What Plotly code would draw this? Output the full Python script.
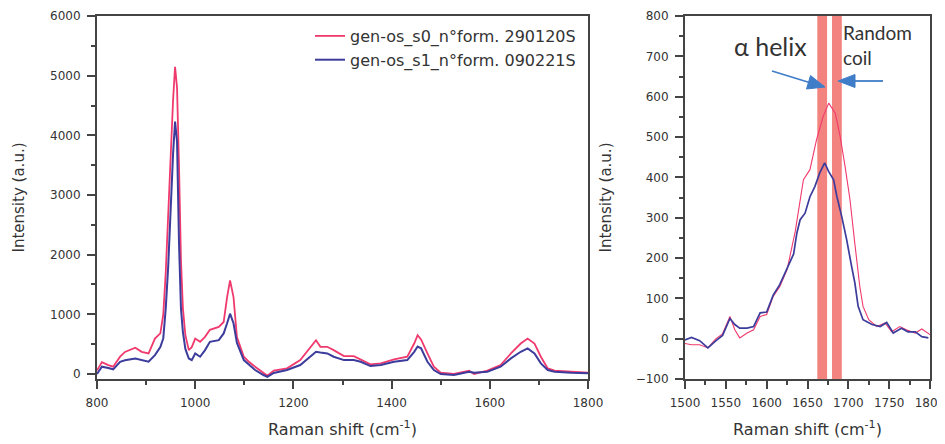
import plotly.graph_objects as go

# ---------------- data ----------------
x_left = [800, 810, 823, 833, 847, 857, 878, 891, 905, 918, 929, 935, 940, 945, 951, 955, 959, 963, 967,
          971, 975, 980, 987, 993, 1000, 1010, 1020, 1030, 1048, 1058, 1065, 1071, 1078, 1085, 1099, 1110,
          1122, 1139, 1147, 1160, 1187, 1214, 1235, 1246, 1255, 1269, 1282, 1303, 1323, 1337, 1357, 1378,
          1405, 1432, 1446, 1453, 1460, 1473, 1486, 1500, 1527, 1558, 1568, 1595, 1622, 1643, 1663, 1677,
          1691, 1704, 1718, 1732, 1766, 1800]
s0_left = [60, 200, 150, 122, 290, 370, 440, 372, 344, 594, 680, 1000, 1700, 2700, 3900, 4600, 5150, 4800,
           3500, 1900, 1100, 650, 400, 450, 594, 539, 622, 740, 789, 872, 1290, 1570, 1290, 620, 290, 200,
           122, 17, -30, 56, 94, 233, 456, 567, 456, 456, 400, 300, 300, 244, 161, 178, 244, 289, 511, 650,
           580, 344, 122, 22, 0, 56, 0, 56, 150, 344, 511, 594, 511, 289, 94, 56, 39, 22]
s1_left = [0, 122, 100, 78, 205, 230, 261, 230, 205, 317, 450, 600, 1100, 1800, 3000, 3700, 4230, 3900,
           2200, 1100, 700, 420, 260, 233, 344, 289, 400, 539, 567, 680, 850, 1011, 850, 520, 233, 150,
           67, -17, -50, 17, 67, 150, 289, 372, 360, 344, 289, 233, 233, 205, 133, 150, 205, 233, 372, 460,
           430, 205, 67, 0, -17, 39, 20, 39, 122, 261, 372, 428, 344, 178, 67, 39, 20, 11]

x_right_s0 = [1500, 1508, 1518, 1528, 1538, 1546, 1555, 1561, 1567, 1576, 1584, 1592, 1600, 1608, 1616,
              1625, 1635, 1645, 1653, 1661, 1669, 1676, 1684, 1690, 1696, 1702, 1708, 1714, 1718, 1725,
              1735, 1745, 1753, 1763, 1771, 1782, 1790, 1800]
s0_right = [-12, -15, -15, -23, 0, 12, 55, 22, 2, 14, 22, 55, 60, 105, 129, 171, 266, 394, 419, 493, 550,
            584, 559, 501, 427, 345, 235, 130, 80, 47, 30, 39, 17, 30, 22, 14, 24, 10]

x_right_s1 = [1500, 1508, 1518, 1528, 1538, 1546, 1555, 1561, 1567, 1576, 1584, 1592, 1600, 1608, 1616,
              1625, 1633, 1637, 1641, 1647, 1653, 1659, 1665, 1671, 1676, 1682, 1686, 1692, 1698, 1704,
              1708, 1712, 1718, 1729, 1739, 1747, 1755, 1765, 1773, 1782, 1790, 1798]
s1_right = [-3, 3, -5, -23, -5, 8, 50, 35, 26, 26, 30, 64, 66, 108, 134, 175, 210, 262, 295, 311, 352, 377,
            411, 436, 414, 394, 352, 302, 245, 179, 138, 80, 47, 35, 30, 40, 14, 26, 17, 17, 5, 2]

series_names = ["gen-os_s0_n°form. 290120S", "gen-os_s1_n°form. 090221S"]
bands = [(1662, 1674), (1680, 1692)]

# ---------------- styling ----------------
PINK = "#F03A6E"
BLUE = "#3C3C9C"
AXC = "#444444"
TXT = "#333333"
ARROW = "#3F7DC8"

# the page body has an 8px margin, so the figure is drawn 8px right/down
OFF = 8
FW, FH = 945 - OFF, 444 - OFF


def px(X):
    return (X - OFF) / FW


def py(Y):
    return 1 - (Y - OFF) / FH


fig = go.Figure()
fig.add_trace(go.Scatter(x=x_left, y=s0_left, mode="lines", name=series_names[0],
                         line=dict(color=PINK, width=1.8), xaxis="x", yaxis="y"))
fig.add_trace(go.Scatter(x=x_left, y=s1_left, mode="lines", name=series_names[1],
                         line=dict(color=BLUE, width=2), xaxis="x", yaxis="y"))
fig.add_trace(go.Scatter(x=x_right_s0, y=s0_right, mode="lines", showlegend=False,
                         line=dict(color=PINK, width=1.1), xaxis="x2", yaxis="y2"))
fig.add_trace(go.Scatter(x=x_right_s1, y=s1_right, mode="lines", showlegend=False,
                         line=dict(color=BLUE, width=1.7), xaxis="x2", yaxis="y2"))

for b0, b1 in bands:
    fig.add_shape(type="rect", xref="x2", yref="y2 domain", x0=b0, x1=b1, y0=0, y1=1,
                  fillcolor="#F2837F", line=dict(width=0), layer="below")

tickfont = dict(family="DejaVu Sans", size=12, color=TXT)
titlefont = dict(family="DejaVu Sans", size=16, color=TXT)


def common(rng, dtick, minor, anchor, domain):
    return dict(domain=domain, range=rng, dtick=dtick, anchor=anchor,
                showline=True, linecolor=AXC, linewidth=2, mirror=True,
                ticks="outside", ticklen=8, tickwidth=1.5, tickcolor=AXC,
                minor=dict(dtick=minor, ticks="outside", ticklen=4, tickcolor=AXC, tickwidth=1.5),
                showgrid=False, zeroline=False, tickfont=tickfont,
                ticklabelstandoff=4, ticklabeloverflow="allow", automargin=False)


def xax(domain, rng, dtick, minor, anchor):
    d = common(rng, dtick, minor, anchor, domain)
    d.update(tick0=rng[0], title=dict(text="Raman shift (cm<sup>-1</sup>)", font=titlefont, standoff=14))
    return d


def yax(domain, rng, dtick, minor, anchor, standoff):
    d = common(rng, dtick, minor, anchor, domain)
    d.update(tick0=0, title=dict(text="Intensity (a.u.)", font=dict(family="DejaVu Sans", size=15, color=TXT),
                                 standoff=standoff))
    return d


ydom = [py(379), py(16)]
fig.update_layout(
    width=FW, height=FH,
    margin=dict(l=0, r=0, t=0, b=0),
    paper_bgcolor="white", plot_bgcolor="white",
    xaxis=xax([px(97), px(588)], [800, 1800], 200, 100, "y"),
    yaxis=yax(ydom, [-84, 6000], 1000, 500, "x", 22),
    xaxis2=xax([px(685), px(930)], [1500, 1800], 50, 25, "y2"),
    yaxis2=yax(ydom, [-100, 800], 100, 50, "x2", 20),
    showlegend=True,
    legend=dict(x=px(310), y=py(19), xanchor="left", yanchor="top",
                bgcolor="rgba(0,0,0,0)", font=dict(family="DejaVu Sans", size=16, color=TXT)),
)

# annotations: labels
fig.add_annotation(xref="paper", yref="paper", x=px(770), y=py(46), xanchor="center", yanchor="middle",
                   text="α helix", showarrow=False, font=dict(family="Lato", size=25, color=TXT))
fig.add_annotation(xref="paper", yref="paper", x=px(841), y=py(45), xanchor="left", yanchor="middle",
                   text="Random<br>coil", align="left", showarrow=False,
                   font=dict(family="Lato", size=19, color=TXT))

# arrows (shaft + filled head) in paper coordinates
# left arrow: tail (772,71) -> tip (825,87)
fig.add_shape(type="line", xref="paper", yref="paper", x0=px(772), y0=py(71), x1=px(811), y1=py(83),
              line=dict(color=ARROW, width=1.8))
fig.add_shape(type="path", xref="paper", yref="paper",
              path=f"M {px(825)},{py(87)} L {px(806.5)},{py(89)} L {px(810.5)},{py(75.5)} Z",
              fillcolor=ARROW, line=dict(color=ARROW, width=1))
# right arrow: tail (883,81) -> tip (838,81)
fig.add_shape(type="line", xref="paper", yref="paper", x0=px(883), y0=py(81), x1=px(852), y1=py(81),
              line=dict(color=ARROW, width=1.8))
fig.add_shape(type="path", xref="paper", yref="paper",
              path=f"M {px(838)},{py(81)} L {px(855)},{py(74.5)} L {px(855)},{py(87.5)} Z",
              fillcolor=ARROW, line=dict(color=ARROW, width=1))

fig.write_html("out.html")
